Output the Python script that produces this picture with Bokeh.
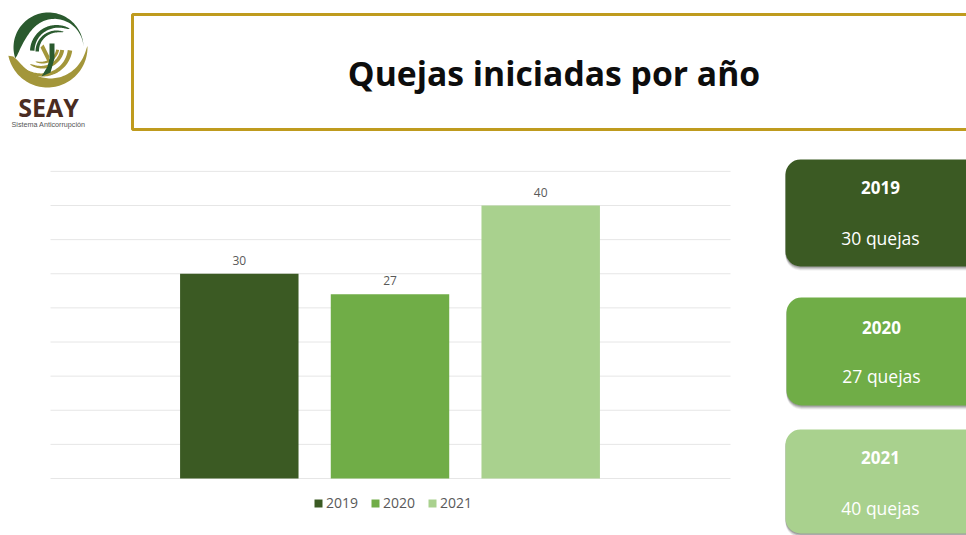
import numpy as np
from bokeh.core.properties import value
from bokeh.embed import file_html
from bokeh.models import BoxAnnotation, Legend, LegendItem, Range1d
from bokeh.plotting import figure
from bokeh.resources import INLINE

years = [2019, 2020, 2021]
quejas = [30, 27, 40]
colors = ["#3B5A23", "#70AD47", "#A9D18E"]
grid_values = [0, 5, 10, 15, 20, 25, 30, 35, 40, 45]
title = "Quejas iniciadas por año"
FONT = value("Open Sans")
CANVAS = dict(left_units="canvas", right_units="canvas", top_units="canvas", bottom_units="canvas")

W, H = 966, 535
# value scale: 2020 sits at px 389.5, 150.7 px/year; 0 at px 478, 6.825 px/queja
p = figure(width=W, height=H, output_backend="svg", toolbar_location=None,
           x_axis_location=None, y_axis_location=None,
           x_range=Range1d(2020 - 389.5 / 150.7, 2020 + (W - 389.5) / 150.7),
           y_range=Range1d(-(H - 478) / 6.825, 478 / 6.825),
           min_border=0, outline_line_color=None, background_fill_color="white")
p.styles = {"position": "absolute", "left": "0", "top": "0"}
p.xgrid.visible = False
p.ygrid.visible = False
p.extra_x_ranges["px"] = Range1d(0, W)
p.extra_y_ranges["px"] = Range1d(H, 0)

# gridlines
gx0, gx1 = 2020 - 339.5 / 150.7, 2020 + 340.5 / 150.7
p.segment(x0=[gx0] * len(grid_values), x1=[gx1] * len(grid_values), y0=grid_values, y1=grid_values,
          line_color="#E6E6E6", line_width=1)

# bars
items = []
for y, q, c in zip(years, quejas, colors):
    r = p.vbar(x=[y], top=[q], bottom=0, width=0.786, fill_color=c, line_color=None)
    items.append(LegendItem(label=str(y), renderers=[r]))
    p.text(x=[y], y=[q], text=[str(q)], text_font=FONT, text_font_size="12px", text_color="#595959",
           text_align="center", text_baseline="bottom", y_offset=-9)

legend = Legend(items=items, orientation="horizontal", location=(313, 23),
                glyph_width=10, glyph_height=10, label_standoff=3, spacing=12,
                label_text_font="Open Sans", label_text_font_size="14px", label_text_color="#595959",
                background_fill_alpha=0, border_line_color=None, margin=0, padding=8)
p.add_layout(legend, "center")

# title box
p.add_layout(BoxAnnotation(left=132, right=975, top=14, bottom=129, level="underlay", **CANVAS,
                           fill_color="white", fill_alpha=1, line_color="#BF9B1E", line_alpha=1, line_width=3))
p.text(x=[553.5], y=[72.5], text=[title], x_range_name="px", y_range_name="px", text_font=FONT,
       text_font_style="bold", text_font_size="33.7px", text_color="#0D0D0D",
       text_align="center", text_baseline="middle")

# cards
cards = [(785, 159, 266), (786, 297, 405), (785, 429, 533)]
year_dy = [28, 29.5, 28]
for (l, t, b), dy, y, q, c in zip(cards, year_dy, years, quejas, colors):
    for off, alpha in ((4, 0.08), (3, 0.12), (2, 0.18), (1, 0.22)):
        p.add_layout(BoxAnnotation(left=l, right=985, top=t + 2, bottom=b + off, level="underlay", **CANVAS,
                                   fill_color="#333333", fill_alpha=alpha, line_color=None, border_radius=15))
    p.add_layout(BoxAnnotation(left=l, right=985, top=t, bottom=b, level="underlay", **CANVAS,
                               fill_color=c, fill_alpha=1, line_color=None, border_radius=15))
    p.text(x=[l + 95], y=[t + dy], text=[str(y)], x_range_name="px", y_range_name="px", text_font=FONT,
           text_font_style="bold", text_font_size="17px", text_color="white",
           text_align="center", text_baseline="middle")
    p.text(x=[l + 95], y=[t + 78], text=[f"{q} quejas"], x_range_name="px", y_range_name="px", text_font=FONT,
           text_font_size="17.5px", text_color="white", text_align="center", text_baseline="middle")

# logo
def crescent(cx, cy, r, w, a0, a1, k=1.0, blunt=False):
    u = np.linspace(0, 1, 60)
    t = np.radians(a0 + (a1 - a0) * u)
    th = w * (1 - u) ** 0.35 if blunt else w * np.sin(np.pi * u ** k) ** 0.7
    xs = np.r_[cx + r * np.cos(t), (cx + (r - th) * np.cos(t))[::-1]]
    ys = np.r_[cy - r * np.sin(t), (cy - (r - th) * np.sin(t))[::-1]]
    return xs.tolist(), ys.tolist()

DARK, OLIVE = "#2A5A2E", "#A3963A"
shapes = [
    (48, 47, 35, 11, 0, 198, 2.2, False, DARK),
    (56, 51, 26.5, 4.5, 178, 60, 1, True, DARK),
    (56, 51, 21, 3.5, 180, 70, 1, True, DARK),
    (47, 47, 40, 10, 192, 362, 0.55, False, OLIVE),
    (42, 46, 30, 4.5, 352, 225, 1, True, OLIVE),
    (42, 46, 22, 4, 350, 235, 1, True, OLIVE),
    (42, 46, 17, 3, 348, 245, 1, True, OLIVE),
]
for cx, cy, r, w, a0, a1, k, blunt, c in shapes:
    xs, ys = crescent(cx, cy, r, w, a0, a1, k, blunt)
    p.patch(xs, ys, x_range_name="px", y_range_name="px", fill_color=c, line_color=None)
p.patch([49, 54, 54, 50, 41, 47, 49], [43, 43, 58, 72, 76, 66, 58], x_range_name="px", y_range_name="px",
        fill_color=DARK, line_color=None)
p.patch([40, 43, 49, 48], [47, 44, 56, 63], x_range_name="px", y_range_name="px", fill_color=OLIVE, line_color=None)
p.text(x=[48], y=[106.5], text=["SEAY"], x_range_name="px", y_range_name="px", text_font=FONT,
       text_font_style="bold", text_font_size="25px", text_color="#4A2C22", text_align="center", text_baseline="middle")
p.text(x=[48], y=[124], text=["Sistema Anticorrupción"], x_range_name="px", y_range_name="px",
       text_font=value("Liberation Sans"), text_font_size="7.2px", text_color="#555555",
       text_align="center", text_baseline="middle")

open("out.html", "w").write(file_html(p, INLINE))
